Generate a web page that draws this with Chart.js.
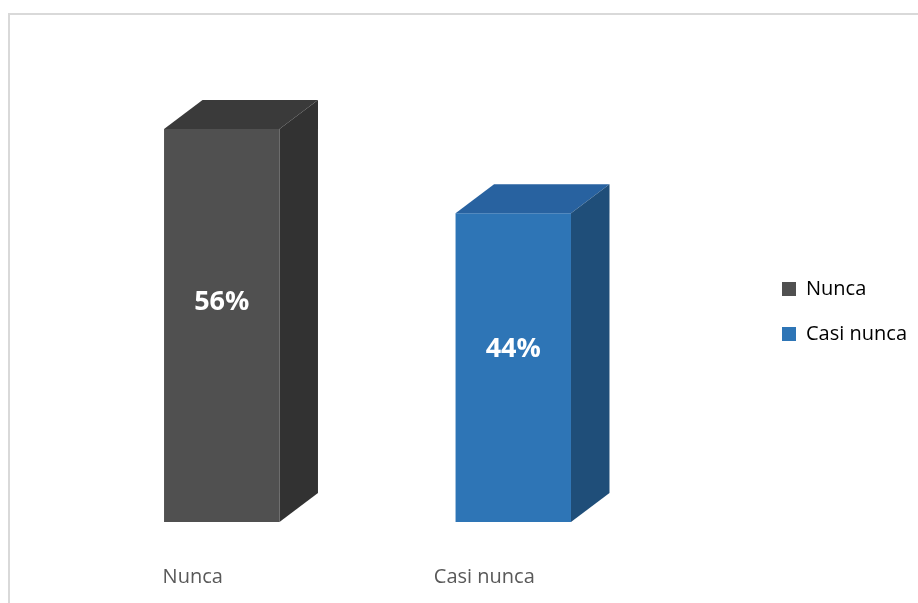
<!DOCTYPE html>
<html>
<head>
<meta charset="utf-8">
<script src="https://cdn.jsdelivr.net/npm/chart.js@4/dist/chart.umd.min.js"></script>
<style>
    html, body { margin: 0; padding: 0; background: #fff; }
    body { width: 918px; height: 603px; position: relative; overflow: hidden; }
    .frame {
        position: absolute; left: 8px; top: 13px;
        width: 940px; height: 620px;
        border: 2px solid #d9d9d9;
        background: #fff;
    }
    #wrap { position: absolute; left: 0; top: 0; width: 918px; height: 603px; }
</style>
</head>
<body>
<div class="frame"></div>
<div id="wrap"><canvas id="chart"></canvas></div>
<script>
// ==========================
// DATA
// ==========================

const categories = ['Nunca', 'Casi nunca'];
const percentValues = [56, 44];

const frontColors = ['#505050', '#2e75b6'];
const topColors   = ['#3a3a3a', '#2862a0'];
const sideColors  = ['#323232', '#1f4e79'];

// ==========================
// 3D FACES + LABELS
// ==========================

const depthX = 38.5;
const depthY = -29;

const bar3d = {
    id: 'bar3d',
    afterDatasetsDraw(chart) {
        const ctx = chart.ctx;
        const meta = chart.getDatasetMeta(0);
        const yScale = chart.scales.y;

        meta.data.forEach((bar, i) => {
            const { x, y, base, width } = bar.getProps(['x', 'y', 'base', 'width'], true);
            const left = x - width / 2;
            const right = x + width / 2;

            ctx.save();

            // top face
            ctx.fillStyle = topColors[i];
            ctx.beginPath();
            ctx.moveTo(left, y);
            ctx.lineTo(left + depthX, y + depthY);
            ctx.lineTo(right + depthX, y + depthY);
            ctx.lineTo(right, y);
            ctx.closePath();
            ctx.fill();

            // side face
            ctx.fillStyle = sideColors[i];
            ctx.beginPath();
            ctx.moveTo(right, y);
            ctx.lineTo(right + depthX, y + depthY);
            ctx.lineTo(right + depthX, base + depthY);
            ctx.lineTo(right, base);
            ctx.closePath();
            ctx.fill();

            // value label
            const ly = yScale.getPixelForValue(percentValues[i] * 0.56);
            ctx.fillStyle = '#ffffff';
            ctx.font = 'bold 27px "Open Sans"';
            ctx.textAlign = 'center';
            ctx.textBaseline = 'middle';
            ctx.fillText(percentValues[i] + '%', x, ly);

            ctx.restore();
        });
    }
};

// ==========================
// CHART
// ==========================

const chart = new Chart(document.getElementById('chart'), {
    type: 'bar',
    data: {
        labels: categories,
        datasets: [
            {
                data: percentValues,
                backgroundColor: frontColors,
                borderWidth: 0,
                categoryPercentage: 0.4,
                barPercentage: 0.99
            }
        ]
    },
    options: {
        responsive: true,
        maintainAspectRatio: false,
        animation: false,
        layout: {
            padding: { top: 101, left: 76, right: 1, bottom: 16 }
        },
        plugins: {
            legend: {
                position: 'right',
                fullSize: false,
                labels: {
                    boxWidth: 14,
                    boxHeight: 14,
                    padding: 25,
                    color: '#595959',
                    font: { family: '"Open Sans"', size: 20 },
                    generateLabels: (c) => categories.map((name, i) => ({
                        text: name,
                        fillStyle: frontColors[i],
                        strokeStyle: frontColors[i],
                        lineWidth: 0,
                        hidden: false,
                        index: i
                    }))
                }
            },
            tooltip: { enabled: false }
        },
        scales: {
            x: {
                grid: { display: false, drawTicks: false },
                border: { display: false },
                ticks: {
                    color: '#595959',
                    font: { family: '"Open Sans"', size: 20 },
                    padding: 43,
                    labelOffset: -29
                },
                afterFit: (scale) => { scale.height = 65; }
            },
            y: {
                position: 'right',
                min: 0,
                max: 60,
                grid: { display: false, drawTicks: false },
                border: { display: false },
                ticks: { display: false },
                afterFit: (scale) => { scale.width = 98; }
            }
        }
    },
    plugins: [bar3d]
});
</script>
</body>
</html>
